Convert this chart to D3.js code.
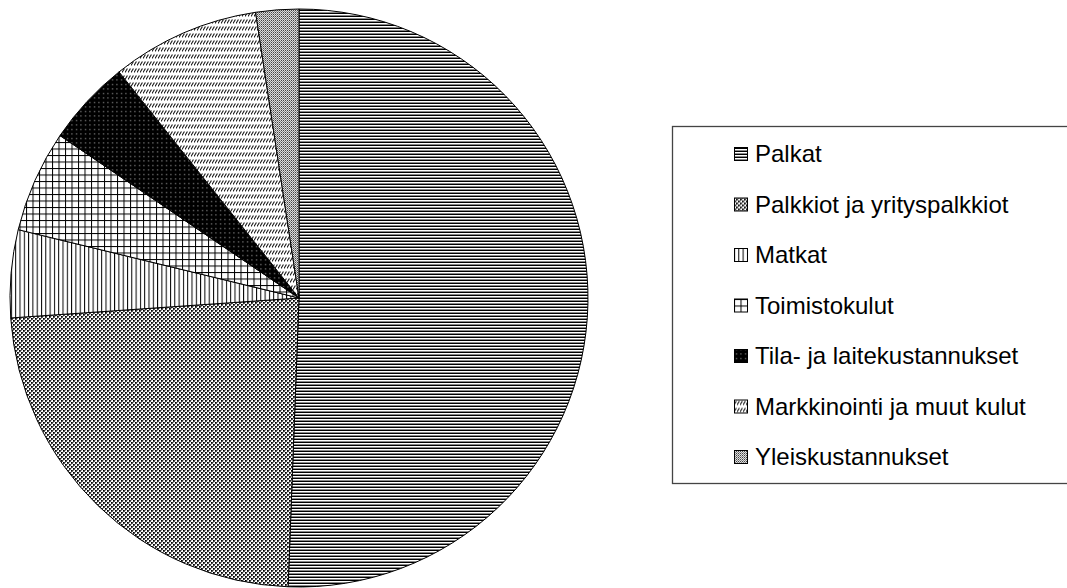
<!DOCTYPE html>
<html>
<head>
<meta charset="utf-8">
<script src="https://cdn.jsdelivr.net/npm/d3@7"></script>
<style>
  body { margin: 0; background: #fff; }
  svg { display: block; }
  .legend_text { font-family: "Liberation Sans", Arial, sans-serif; font-size: 24px; fill: #000; }
</style>
</head>
<body>
<div id="chart"></div>
<script>
// Data (shares in %)
const categories = ['Palkat', 'Palkkiot ja yrityspalkkiot', 'Matkat', 'Toimistokulut',
  'Tila- ja laitekustannukset', 'Markkinointi ja muut kulut', 'Yleiskustannukset'];
const values = [50.6, 23.3, 4.9, 5.7, 4.8, 8.3, 2.4];
const patternIds = ['p_horiz', 'p_dots', 'p_vert', 'p_grid', 'p_black', 'p_slash', 'p_fine'];

const width = 1067, height = 588;
const svg = d3.select('#chart').append('svg')
  .attr('width', width)
  .attr('height', height);

// Fill patterns
const defs = svg.append('defs');
function makePattern(id, w, h, draw) {
  const p = defs.append('pattern')
    .attr('id', id)
    .attr('patternUnits', 'userSpaceOnUse')
    .attr('width', w)
    .attr('height', h);
  p.append('rect').attr('width', w).attr('height', h).attr('fill', '#fff');
  draw(p);
}
makePattern('p_horiz', 3, 3, p => {
  p.append('rect').attr('y', 0).attr('width', 3).attr('height', 1).attr('fill', '#000');
  p.append('rect').attr('y', 2).attr('width', 3).attr('height', 1).attr('fill', '#888');
});
makePattern('p_dots', 4, 4, p => {
  p.append('rect').attr('x', 0).attr('y', 0).attr('width', 1.8).attr('height', 1.8).attr('fill', '#000');
  p.append('rect').attr('x', 2).attr('y', 2).attr('width', 1.8).attr('height', 1.8).attr('fill', '#000');
  p.append('rect').attr('x', 2).attr('y', 0).attr('width', 1).attr('height', 1).attr('fill', '#999');
  p.append('rect').attr('x', 0).attr('y', 2).attr('width', 1).attr('height', 1).attr('fill', '#bbb');
});
makePattern('p_vert', 4.3, 4, p => {
  p.append('rect').attr('x', 0).attr('width', 1).attr('height', 4).attr('fill', '#000');
});
makePattern('p_grid', 6.5, 6.5, p => {
  p.append('rect').attr('x', 0).attr('width', 1).attr('height', 6.5).attr('fill', '#000');
  p.append('rect').attr('y', 0).attr('width', 6.5).attr('height', 1).attr('fill', '#000');
});
makePattern('p_black', 4.5, 4.5, p => {
  p.append('rect').attr('width', 4.5).attr('height', 4.5).attr('fill', '#000');
  p.append('rect').attr('x', 2).attr('y', 2).attr('width', 1).attr('height', 1).attr('fill', '#ccc');
});
makePattern('p_slash', 3, 7, p => {
  p.append('path').attr('d', 'M0,5.5 L2.4,1.5').attr('stroke', '#111').attr('stroke-width', 1.1);
});
makePattern('p_fine', 2, 2, p => {
  p.append('rect').attr('width', 2).attr('height', 2).attr('fill', '#ddd');
  p.append('rect').attr('x', 0).attr('y', 0).attr('width', 1).attr('height', 1).attr('fill', '#444');
  p.append('rect').attr('x', 1).attr('y', 1).attr('width', 1).attr('height', 1).attr('fill', '#888');
});

// Pie
const cx = 299, cy = 298, radius = 289;
const pie = d3.pie().sort(null).value(d => d.value).startAngle(0).endAngle(2 * Math.PI);
const arc = d3.arc().innerRadius(0).outerRadius(radius);
const data = categories.map((c, i) => ({ name: c, value: values[i], pattern: patternIds[i] }));

const pieGroup = svg.append('g')
  .attr('transform', `translate(${cx},${cy})`);
pieGroup.selectAll('path')
  .data(pie(data))
  .join('path')
    .attr('d', arc)
    .attr('fill', d => `url(#${d.data.pattern})`)
    .attr('stroke', '#000')
    .attr('stroke-width', 1);

// Legend
const legendX = 672, legendY = 126, legendW = 420, legendH = 357;
svg.append('rect')
  .attr('x', legendX + 0.5)
  .attr('y', legendY + 0.5)
  .attr('width', legendW)
  .attr('height', legendH)
  .attr('fill', '#fff')
  .attr('stroke', '#444')
  .attr('stroke-width', 1.3);

const rowScale = d3.scalePoint()
  .domain(categories)
  .range([154, 457]);

const items = svg.append('g').selectAll('g')
  .data(data)
  .join('g')
    .attr('transform', d => `translate(734,${rowScale(d.name)})`);
items.append('rect')
  .attr('x', 0.5)
  .attr('y', -6.5)
  .attr('width', 13)
  .attr('height', 13)
  .attr('fill', d => `url(#${d.pattern})`)
  .attr('stroke', '#000')
  .attr('stroke-width', 1);
items.append('text')
  .attr('class', 'legend_text')
  .attr('x', 21)
  .attr('y', 8)
  .text(d => d.name);
</script>
</body>
</html>
